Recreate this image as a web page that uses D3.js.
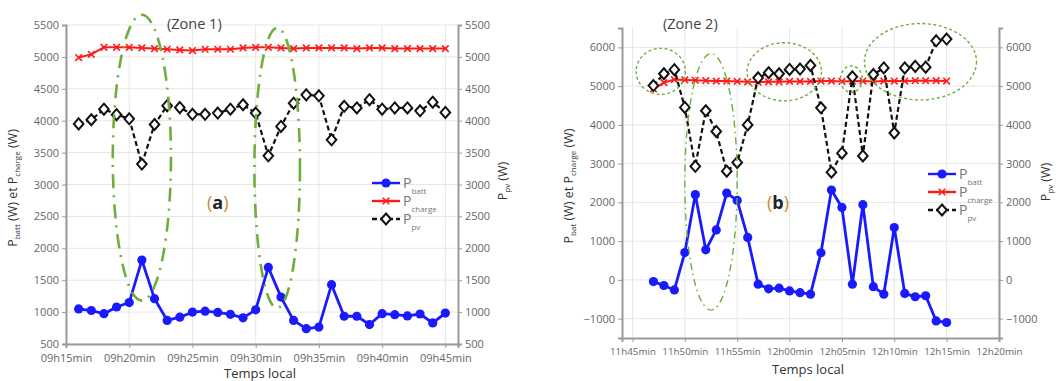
<!DOCTYPE html>
<html>
<head>
<meta charset="utf-8">
<script src="https://cdn.jsdelivr.net/npm/d3@7"></script>
<style>
body{margin:0;background:#fff;}
svg{display:block;}
</style>
</head>
<body>
<div class="chart"></div>
<script>
// zone 1 : 09h16 .. 09h45, one sample per minute
var minutesA = d3.range(556, 586);
var battA = [1050,1025,975,1080,1150,1815,1210,870,920,1000,1015,995,965,910,1035,
             1700,1235,870,740,765,1430,935,935,805,975,960,940,970,830,985];
var chargeA = [4990,5040,5150,5150,5150,5140,5130,5120,5110,5100,5120,5120,5120,5140,5150,
               5150,5140,5130,5140,5140,5140,5140,5130,5140,5140,5130,5130,5130,5130,5130];
var pvA = [3950,4015,4180,4095,4030,3320,3940,4235,4205,4100,4100,4120,4180,4250,4120,
           3450,3910,4275,4405,4390,3700,4225,4200,4330,4180,4200,4200,4155,4290,4130];
var ticksXA = [555,560,565,570,575,580,585];
var ticksYA = [500,1000,1500,2000,2500,3000,3500,4000,4500,5000,5500];

// zone 2 : 11h47 .. 12h15
var minutesB = d3.range(707, 736);
var battB = [-45,-145,-260,705,2200,775,1290,2240,2050,1095,-110,-230,-215,-285,-330,
             -370,700,2320,1870,-110,1940,-175,-370,1350,-350,-435,-410,-1060,-1100];
var chargeB = [4930,5090,5170,5160,5150,5140,5130,5130,5120,5110,5100,5110,5110,5120,5120,
               5120,5130,5130,5120,5130,5130,5120,5130,5130,5130,5140,5140,5140,5130];
var pvB = [5015,5320,5425,4450,2930,4365,3830,2805,3030,4000,5215,5345,5320,5430,5440,
           5535,4440,2780,3270,5240,3200,5300,5470,3790,5470,5510,5490,6170,6215];
var ticksXB = [705,710,715,720,725,730,735,740];
var ticksYB = [-1000,0,1000,2000,3000,4000,5000,6000];

// highlighted zones, in data units (minute, W)
var zonesA = [{cx:561,cy:3420,rx:2.3,ry:2240},{cx:571.7,cy:3260,rx:1.8,ry:2195}];
var zonesB = [{cx:707.7,cy:5380,rx:2.35,ry:595,dot:false},
              {cx:712.5,cy:2530,rx:2.5,ry:3310,dot:true},
              {cx:719.5,cy:5370,rx:3.55,ry:750,dot:false},
              {cx:725.9,cy:5180,rx:1.05,ry:340,dot:false},
              {cx:732.5,cy:5630,rx:5.35,ry:985,dot:false}];

var FONT = "'Open Sans', 'DejaVu Sans', sans-serif";
var GREY = "#666";
var BLUE = "#1a1aff", RED = "#ff1a1a", GREEN = "#6fae3c";

// squat diamond like the matlab marker
var diamond = {draw: function(ctx){
    ctx.moveTo(0,-5.5); ctx.lineTo(4.8,0); ctx.lineTo(0,5.5); ctx.lineTo(-4.8,0); ctx.closePath();
}};

var svg = d3.select("div.chart").append("svg")
    .attr("width", 1059).attr("height", 381);

function fmtTime(m){
    var h = Math.floor(m/60), mm = m%60;
    return (h<10?"0":"") + h + "h" + (mm<10?"0":"") + mm + "min";
}

function subLabel(g, x, y, parts, rotate){
    var t = g.append("text")
        .attr("transform", "translate("+x+","+y+")" + (rotate?" rotate(-90)":""))
        .attr("text-anchor", "middle")
        .attr("font-family", FONT)
        .attr("fill", "#333");
    parts.forEach(function(p){
        var s = t.append("tspan").text(p[0]);
        if(p[1]){
            s.attr("font-size", "8px").attr("baseline-shift", "-35%");
        } else {
            s.attr("font-size", "12.5px");
        }
    });
    return t;
}

function drawPanel(o){
    var g = svg.append("g");
    var x = d3.scaleLinear().domain(o.xDom).range([o.x0, o.x1]);
    var y = d3.scaleLinear().domain(o.yDom).range([o.y1, o.y0]);

    // grid
    g.selectAll("line.gx").data(o.ticksX).enter().append("line")
        .attr("x1", function(d){return x(d);}).attr("x2", function(d){return x(d);})
        .attr("y1", o.y0).attr("y2", o.y1)
        .attr("stroke", "#e6e6e6").attr("stroke-width", 1);
    g.selectAll("line.gy").data(o.ticksY).enter().append("line")
        .attr("y1", function(d){return y(d);}).attr("y2", function(d){return y(d);})
        .attr("x1", o.x0).attr("x2", o.x1)
        .attr("stroke", "#e6e6e6").attr("stroke-width", 1);

    // axes
    var ax = [
        {a: d3.axisBottom(x).tickValues(o.ticksX).tickFormat(fmtTime), t: "translate(0,"+o.y1+")", fs: o.xFont, pad: 6},
        {a: d3.axisLeft(y).tickValues(o.ticksY).tickFormat(d3.format("d")), t: "translate("+o.x0+",0)", fs: "11px", pad: 3},
        {a: d3.axisRight(y).tickValues(o.ticksY).tickFormat(d3.format("d")), t: "translate("+o.x1+",0)", fs: "11px", pad: 3}
    ];
    ax.forEach(function(k){
        var a = g.append("g").attr("transform", k.t)
            .call(k.a.tickSize(4).tickPadding(k.pad));
        a.select(".domain").attr("stroke", "#9a9a9a").attr("stroke-width", 2);
        a.selectAll(".tick line").attr("stroke", "#9a9a9a");
        a.selectAll(".tick text").attr("fill", GREY)
            .attr("font-family", FONT).attr("font-size", k.fs);
    });

    // series
    var line = d3.line().x(function(d){return x(d[0]);}).y(function(d){return y(d[1]);});
    var batt = d3.zip(o.minutes, o.batt), charge = d3.zip(o.minutes, o.charge), pv = d3.zip(o.minutes, o.pv);

    g.append("path").datum(charge).attr("d", line)
        .attr("fill", "none").attr("stroke", RED).attr("stroke-width", 2);
    g.selectAll("path.mc").data(charge).enter().append("path")
        .attr("transform", function(d){return "translate("+x(d[0])+","+y(d[1])+")";})
        .attr("d", d3.symbol(d3.symbolTimes, 30))
        .attr("fill", "none").attr("stroke", RED).attr("stroke-width", 1.6);

    g.append("path").datum(pv).attr("d", line)
        .attr("fill", "none").attr("stroke", "#111").attr("stroke-width", 2.2)
        .attr("stroke-dasharray", "5,3");
    g.selectAll("path.mp").data(pv).enter().append("path")
        .attr("transform", function(d){return "translate("+x(d[0])+","+y(d[1])+")";})
        .attr("d", d3.symbol(diamond))
        .attr("fill", "#fff").attr("stroke", "#111").attr("stroke-width", 2);

    g.append("path").datum(batt).attr("d", line)
        .attr("fill", "none").attr("stroke", BLUE).attr("stroke-width", 2.8);
    g.selectAll("circle.mb").data(batt).enter().append("circle")
        .attr("cx", function(d){return x(d[0]);}).attr("cy", function(d){return y(d[1]);})
        .attr("r", 4.6).attr("fill", BLUE);

    // highlighted zones
    g.selectAll("ellipse.z").data(o.zones).enter().append("ellipse")
        .attr("cx", function(d){return x(d.cx);}).attr("cy", function(d){return y(d.cy);})
        .attr("rx", function(d){return x(o.xDom[0]+d.rx)-x(o.xDom[0]);})
        .attr("ry", function(d){return y(o.yDom[0])-y(o.yDom[0]+d.ry);})
        .attr("fill", "none").attr("stroke", GREEN)
        .attr("stroke-width", function(d){return o.big ? 2.6 : 1.4;})
        .attr("stroke-dasharray", function(d){
            if(o.big) return "14,7,2,7";
            return d.dot ? "7,4,1.5,4" : "3,2.5";
        });

    // legend
    var names = [["batt", BLUE], ["charge", RED], ["pv", "#111"]];
    names.forEach(function(n, i){
        var ly = o.legY + i*18;
        g.append("line").attr("x1", o.legX).attr("x2", o.legX+28)
            .attr("y1", ly).attr("y2", ly)
            .attr("stroke", n[1]).attr("stroke-width", 2.4)
            .attr("stroke-dasharray", i==2 ? "5,3" : null);
        var mx = o.legX+14;
        if(i==0) g.append("circle").attr("cx", mx).attr("cy", ly).attr("r", 4.6).attr("fill", BLUE);
        if(i==1) g.append("path").attr("transform", "translate("+mx+","+ly+")")
            .attr("d", d3.symbol(d3.symbolTimes, 30)).attr("fill", "none").attr("stroke", RED).attr("stroke-width", 1.6);
        if(i==2) g.append("path").attr("transform", "translate("+mx+","+ly+")")
            .attr("d", d3.symbol(diamond)).attr("fill", "#fff").attr("stroke", "#111").attr("stroke-width", 2);
        var t = g.append("text").attr("x", o.legX+31).attr("y", ly+5)
            .attr("font-family", FONT).attr("fill", "#777");
        t.append("tspan").text("P").attr("font-size", "14px");
        t.append("tspan").text(o.legSub[i]).attr("font-size", "8px").attr("dy", 6);
    });

    // texts
    g.append("text").text(o.title).attr("x", o.titleX).attr("y", 29)
        .attr("font-family", FONT).attr("font-size", "14.5px").attr("fill", "#444");
    var tag = g.append("text").attr("x", o.tagX).attr("y", 209)
        .attr("font-family", FONT).attr("font-size", "18px").attr("fill", "#222");
    tag.append("tspan").text("(").attr("fill", "#c98a3c");
    tag.append("tspan").text(o.tag).attr("font-weight", "bold");
    tag.append("tspan").text(")").attr("fill", "#c98a3c");

    g.append("text").text("Temps local").attr("x", o.xlabX).attr("y", o.xlabY)
        .attr("text-anchor", "middle").attr("font-family", FONT)
        .attr("font-size", "13px").attr("fill", "#333");

    subLabel(g, o.ylabX, o.ylabY, [["P"],[o.battSub,1],[" (W) et P"],["charge",1],[" (W)"]], true);
    subLabel(g, o.y2labX, o.y2labY, [["P"],["pv",1],[" (W)"]], true);
}

drawPanel({
    minutes: minutesA, batt: battA, charge: chargeA, pv: pvA,
    xDom: [555, 586], yDom: [500, 5500], ticksX: ticksXA, ticksY: ticksYA,
    x0: 66, x1: 458, y0: 25, y1: 344, zones: zonesA, big: true, xFont: "11px",
    legX: 372, legY: 183, legSub: ["batt", "charge", "pv"],
    title: "(Zone 1)", titleX: 167, tag: "a", tagX: 207,
    xlabX: 260, xlabY: 378, ylabX: 17, ylabY: 188, battSub: "batt",
    y2labX: 507, y2labY: 181
});

drawPanel({
    minutes: minutesB, batt: battB, charge: chargeB, pv: pvB,
    xDom: [704, 740], yDom: [-1500, 6500], ticksX: ticksXB, ticksY: ticksYB,
    x0: 622, x1: 999, y0: 28, y1: 338, zones: zonesB, big: false, xFont: "9.8px",
    legX: 928, legY: 174, legSub: ["batt", "charge", "pv"],
    title: "(Zone 2)", titleX: 663, tag: "b", tagX: 767,
    xlabX: 808, xlabY: 374, ylabX: 573, ylabY: 186, battSub: "bat",
    y2labX: 1050, y2labY: 182
});
</script>
</body>
</html>
